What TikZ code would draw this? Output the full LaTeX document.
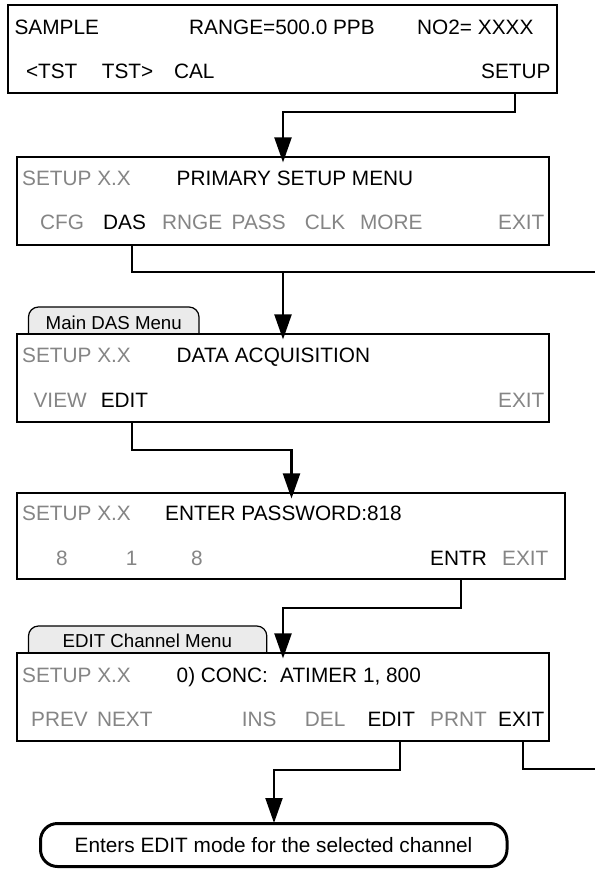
\documentclass[tikz,border=0pt]{standalone}
\usepackage{fontspec}
\setmainfont{Liberation Sans}
\usetikzlibrary{arrows.meta}
\definecolor{keygray}{HTML}{858585}
\definecolor{tabfill}{HTML}{EBEBEB}
\begin{document}
\begin{tikzpicture}[x=1pt,y=-1pt,
  box/.style={draw, line width=2.1pt, fill=white, inner sep=0pt},
  tabbox/.style={draw, line width=1.2pt, fill=tabfill, rounded corners=10pt, inner sep=0pt},
  oval/.style={draw, line width=3pt, rounded corners=17pt, inner sep=0pt},
  txt/.style={inner sep=0pt, anchor=base west, font=\fontsize{20.8}{25}\selectfont},
  ctxt/.style={txt, anchor=base},
  tabtxt/.style={inner sep=0pt, anchor=base, font=\fontsize{18.7}{22}\selectfont},
  dim/.style={text=keygray},
  ln/.style={line width=2.1pt},
  arr/.style={line width=2.1pt, -{Triangle[length=25pt,width=17pt]}}
]
\useasboundingbox (0,0) rectangle (595,869);

% tabs (drawn first, lower part hidden by boxes)
\node[tabbox, minimum width=170.5pt, minimum height=37pt] (tab3) at (113.75,325.5) {};
\node[tabbox, minimum width=238.3pt, minimum height=37pt] (tab5) at (147.65,644.5) {};

% boxes
\node[box, minimum width=548.4pt, minimum height=88pt] (b1) at (282.5,48.7) {};
\node[box, minimum width=532pt, minimum height=88pt] (b2) at (283,201) {};
\node[box, minimum width=532pt, minimum height=88pt] (b3) at (283,378) {};
\node[box, minimum width=547.7pt, minimum height=86pt] (b4) at (290.85,536) {};
\node[box, minimum width=532pt, minimum height=88pt] (b5) at (283,697) {};
\node[oval, minimum width=466.5pt, minimum height=43pt] (ov) at (273.75,845) {};

% tab texts
\node[tabtxt] (tt3) at (113.75,329.7) {Main DAS Menu};
\node[tabtxt] (tt5) at (147.3,647.7) {EDIT Channel Menu};

% box 1
\node[txt] (t1a) at (14.4,34.2) {SAMPLE};
\node[txt] (t1b) at (189,34.2) {RANGE=500.0 PPB};
\node[txt] (t1c) at (417,34.2) {NO2= XXXX};
\node[txt] (k1a) at (25.8,78.4) {<TST};
\node[txt] (k1b) at (101.7,78.4) {TST>};
\node[txt] (k1c) at (173.8,78.4) {CAL};
\node[txt] (k1d) at (481,78.4) {SETUP};

% box 2
\node[txt,dim] (t2a) at (22,185.4) {SETUP X.X};
\node[txt] (t2b) at (176.5,185.4) {PRIMARY SETUP MENU};
\node[txt,dim] (k2a) at (40,229.4) {CFG};
\node[txt] (k2b) at (103,229.4) {DAS};
\node[txt,dim] (k2c) at (162,229.4) {RNGE};
\node[txt,dim] (k2d) at (231.5,229.4) {PASS};
\node[txt,dim] (k2e) at (304.7,229.4) {CLK};
\node[txt,dim] (k2f) at (359.8,229.4) {MORE};
\node[txt,dim] (k2g) at (498,229.4) {EXIT};

% box 3
\node[txt,dim] (t3a) at (22,362.4) {SETUP X.X};
\node[txt] (t3b) at (176.5,362.4) {DATA ACQUISITION};
\node[txt,dim] (k3a) at (33.4,407.4) {VIEW};
\node[txt] (k3b) at (100.6,407.4) {EDIT};
\node[txt,dim] (k3c) at (498,407.4) {EXIT};

% box 4
\node[txt,dim] (t4a) at (22,520.7) {SETUP X.X};
\node[txt] (t4b) at (165,520.7) {ENTER PASSWORD:818};
\node[ctxt,dim] (k4a) at (62,565.6) {8};
\node[ctxt,dim] (k4b) at (131.7,565.6) {1};
\node[ctxt,dim] (k4c) at (197,565.6) {8};
\node[txt] (k4d) at (430,565.6) {ENTR};
\node[txt,dim] (k4e) at (502,565.6) {EXIT};

% box 5
\node[txt,dim] (t5a) at (22,682.2) {SETUP X.X};
\node[txt] (t5b) at (176.5,682.2) {0) CONC:};
\node[txt] (t5c) at (280,682.2) {ATIMER 1, 800};
\node[txt,dim] (k5a) at (31,726.6) {PREV};
\node[txt,dim] (k5b) at (96.8,726.6) {NEXT};
\node[txt,dim] (k5c) at (241.7,726.6) {INS};
\node[txt,dim] (k5d) at (304.7,726.6) {DEL};
\node[txt] (k5e) at (367.4,726.6) {EDIT};
\node[txt,dim] (k5f) at (430,726.6) {PRNT};
\node[txt] (k5g) at (498,726.6) {EXIT};

% oval text
\node[ctxt] (ot) at (273.5,852.4) {Enters EDIT mode for the selected channel};

% connectors
\coordinate (xa) at (515.3,0);
\coordinate (xb) at (131.7,0);
\coordinate (xc) at (461,0);
\coordinate (xd) at (400.4,0);
\coordinate (xe) at (522.6,0);
\coordinate (j1) at (283,112);
\coordinate (j2) at (283,272);
\coordinate (r1) at (595,272);
\coordinate (j3) at (291.5,450);
\coordinate (j4) at (283,608);
\coordinate (j5) at (274,770);
\coordinate (r2) at (595,769);

\draw[arr, shorten >=-6.5pt] (b1.south -| xa) |- (j1) -- (j1 |- b2.north);
\draw[ln] (b2.south -| xb) |- (r1);
\draw[arr, shorten >=-6.5pt] (j2) -- (j2 |- b3.north);
\draw[arr, shorten >=-6.5pt] (b3.south -| xb) |- (j3) -- (j3 |- b4.north);
\draw[arr, shorten >=-6.5pt] (b4.south -| xc) |- (j4) -- (j4 |- b5.north);
\draw[arr, shorten >=-1pt] (b5.south -| xd) |- (j5) -- (j5 |- ov.north);
\draw[ln] (b5.south -| xe) |- (r2);
\end{tikzpicture}
\end{document}
